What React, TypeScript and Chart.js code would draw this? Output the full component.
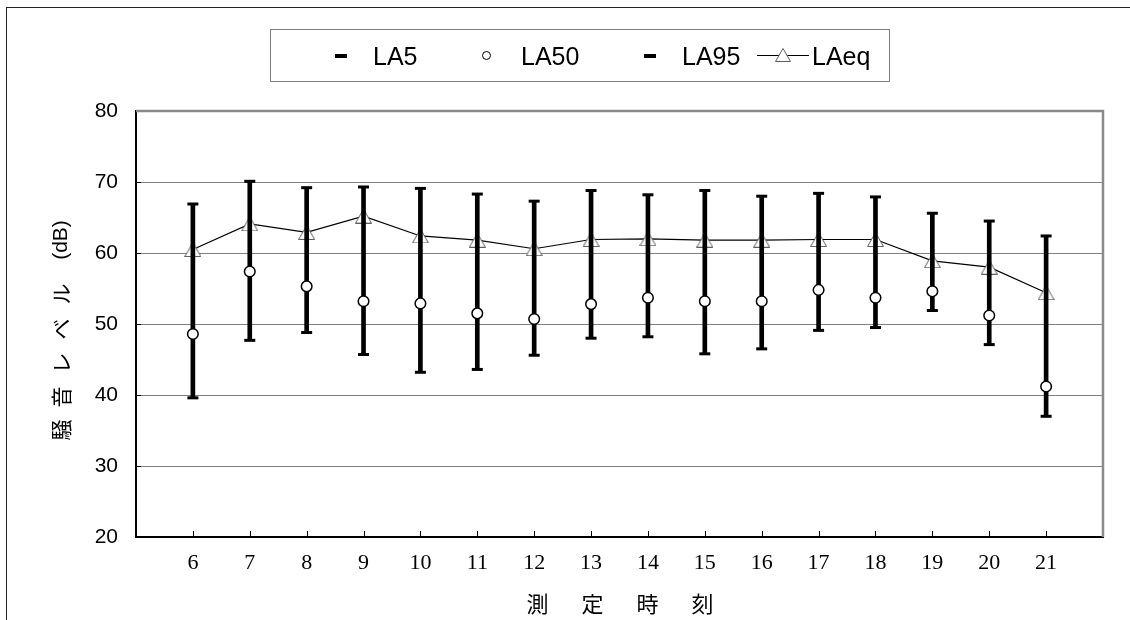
import React, { useEffect, useRef } from 'react';
import { Chart, registerables } from 'chart.js';

Chart.register(...registerables);

// ---- data ----
const hours = [6, 7, 8, 9, 10, 11, 12, 13, 14, 15, 16, 17, 18, 19, 20, 21];
const la5 = [66.9, 70.1, 69.2, 69.3, 69.1, 68.3, 67.3, 68.8, 68.2, 68.8, 68.0, 68.4, 67.9, 65.6, 64.5, 62.4];
const la50 = [48.6, 57.4, 55.3, 53.2, 52.9, 51.5, 50.7, 52.8, 53.7, 53.2, 53.2, 54.8, 53.7, 54.6, 51.2, 41.2];
const la95 = [39.6, 47.7, 48.8, 45.7, 43.2, 43.6, 45.6, 48.0, 48.2, 45.8, 46.5, 49.1, 49.5, 51.9, 47.1, 37.0];
const laeq = [60.5, 64.1, 62.9, 65.2, 62.4, 61.8, 60.6, 61.9, 62.0, 61.8, 61.8, 61.9, 61.9, 58.9, 58.0, 54.4];

const yMin = 20;
const yMax = 80;
const yStep = 10;
const xMin = 5;
const xMax = 22;

const legendNames = ['LA5', 'LA50', 'LA95', 'LAeq'];
const xTitleChars = ['測', '定', '時', '刻'];
const yTitleChars = ['騒', '音', 'レ', 'ベ', 'ル'];
const yTitleUnit = '(dB)';

const decorPlugin = {
  id: 'decor',
  beforeDatasetsDraw(chart: any) {
    const { ctx, chartArea, scales } = chart;
    const { left, right, top, bottom } = chartArea;
    ctx.save();
    ctx.strokeStyle = '#8a8a8a';
    ctx.lineWidth = 2.5;
    ctx.beginPath();
    ctx.moveTo(left, top);
    ctx.lineTo(right, top);
    ctx.lineTo(right, bottom);
    ctx.stroke();
    ctx.strokeStyle = '#000';
    ctx.lineWidth = 1;
    ctx.beginPath();
    hours.forEach((h) => {
      const px = Math.round(scales.x.getPixelForValue(h)) + 0.5;
      ctx.moveTo(px, bottom);
      ctx.lineTo(px, bottom - 6);
    });
    for (let v = yMin + yStep; v < yMax; v += yStep) {
      const py = Math.round(scales.y.getPixelForValue(v)) + 0.5;
      ctx.moveTo(left, py);
      ctx.lineTo(left + 5, py);
    }
    ctx.stroke();
    ctx.restore();
  },
};

export default function App() {
  const ref = useRef<HTMLCanvasElement>(null);

  useEffect(() => {
    const tri = document.createElement('canvas');
    tri.width = 17;
    tri.height = 15;
    const t = tri.getContext('2d')!;
    t.beginPath();
    t.moveTo(8.5, 0.5);
    t.lineTo(16.5, 14.5);
    t.lineTo(0.5, 14.5);
    t.closePath();
    t.fillStyle = '#fff';
    t.fill();
    t.strokeStyle = '#5e5e5e';
    t.lineWidth = 1;
    t.stroke();

    const pts = (arr: number[]) => hours.map((h, i) => ({ x: h, y: arr[i] }));

    const chart = new Chart(ref.current!, {
      type: 'line',
      data: {
        datasets: [
          {
            type: 'line',
            label: 'LAeq',
            data: pts(laeq),
            borderColor: '#000',
            borderWidth: 1.2,
            pointStyle: tri as any,
            pointRadius: 8,
            order: 3,
          } as any,
          {
            type: 'bar',
            label: 'range',
            data: hours.map((h, i) => ({ x: h, y: [la95[i], la5[i]] })),
            backgroundColor: '#000',
            barThickness: 4,
            order: 2,
          } as any,
          {
            type: 'line',
            label: 'LA5',
            data: pts(la5),
            showLine: false,
            pointStyle: 'line',
            pointRadius: 5.5,
            pointBorderWidth: 3,
            pointBorderColor: '#000',
            order: 1,
          } as any,
          {
            type: 'line',
            label: 'LA95',
            data: pts(la95),
            showLine: false,
            pointStyle: 'line',
            pointRadius: 5.5,
            pointBorderWidth: 3,
            pointBorderColor: '#000',
            order: 1,
          } as any,
          {
            type: 'line',
            label: 'LA50',
            data: pts(la50),
            showLine: false,
            pointStyle: 'circle',
            pointRadius: 5.3,
            pointBorderWidth: 1.5,
            pointBorderColor: '#000',
            pointBackgroundColor: '#fff',
            order: 0,
          } as any,
        ],
      },
      options: {
        animation: false,
        responsive: false,
        events: [],
        layout: { padding: { left: 0, right: 27, top: 111, bottom: 0 } },
        plugins: { legend: { display: false }, tooltip: { enabled: false } },
        scales: {
          x: {
            type: 'linear',
            min: xMin,
            max: xMax,
            offset: false,
            afterFit: (s: any) => {
              s.height = 83;
            },
            ticks: {
              stepSize: 1,
              autoSkip: false,
              maxRotation: 0,
              callback: (v: any) => (v >= hours[0] && v <= hours[hours.length - 1] ? String(v) : ''),
              font: { family: '"Liberation Serif", serif', size: 22 },
              color: '#000',
              padding: 13,
            },
            grid: { display: false, drawTicks: false, offset: false },
            border: { display: true, color: '#000', width: 2 },
          },
          y: {
            min: yMin,
            max: yMax,
            afterFit: (s: any) => {
              s.width = 136;
            },
            ticks: {
              stepSize: yStep,
              font: { family: '"Liberation Sans", Arial, sans-serif', size: 21 },
              color: '#000',
              padding: 18,
            },
            grid: { color: '#808080', lineWidth: 1, drawTicks: false },
            border: { display: true, color: '#000', width: 2 },
          },
        } as any,
      },
      plugins: [decorPlugin],
    });
    return () => chart.destroy();
  }, []);

  const legendText: React.CSSProperties = {
    position: 'absolute',
    top: 44,
    fontFamily: '"Liberation Sans", Arial, sans-serif',
    fontSize: 25,
    lineHeight: '25px',
    color: '#000',
    whiteSpace: 'nowrap',
  };
  const dash = (left: number): React.CSSProperties => ({
    position: 'absolute',
    left,
    top: 53.5,
    width: 12,
    height: 4,
    background: '#000',
  });

  const xCenters = [537.5, 592.5, 647.5, 702.5];
  const yOffsets = [20, 53, 87, 121, 156];

  return (
    <div
      style={{
        position: 'absolute',
        left: 0,
        top: 0,
        width: 1130,
        height: 620,
        overflow: 'hidden',
        background: '#fff',
      }}
    >
      <div
        style={{
          position: 'absolute',
          left: 6,
          top: 7,
          width: 1400,
          height: 900,
          border: '1px solid #222',
        }}
      />
      <canvas ref={ref} width={1130} height={620} style={{ position: 'absolute', left: 0, top: 0 }} />

      {/* legend */}
      <div
        style={{
          position: 'absolute',
          left: 270,
          top: 29,
          width: 620,
          height: 53,
          border: '1px solid #808080',
          boxSizing: 'border-box',
        }}
      />
      <div style={dash(335)} />
      <span style={{ ...legendText, left: 373 }}>{legendNames[0]}</span>
      <div
        style={{
          position: 'absolute',
          left: 482,
          top: 51,
          width: 9,
          height: 9,
          border: '1px solid #000',
          borderRadius: '50%',
          boxSizing: 'border-box',
          background: '#fff',
        }}
      />
      <span style={{ ...legendText, left: 521 }}>{legendNames[1]}</span>
      <div style={dash(644)} />
      <span style={{ ...legendText, left: 682 }}>{legendNames[2]}</span>
      <svg
        style={{ position: 'absolute', left: 757, top: 45 }}
        width={52}
        height={21}
        viewBox="0 0 52 21"
      >
        <line x1={0} y1={10.5} x2={52} y2={10.5} stroke="#000" strokeWidth={1} />
        <polygon points="26,3.5 33.5,16.5 18.5,16.5" fill="#fff" stroke="#5e5e5e" strokeWidth={1} />
      </svg>
      <span style={{ ...legendText, left: 812 }}>{legendNames[3]}</span>

      {/* x title */}
      {xTitleChars.map((c, i) => (
        <span
          key={c}
          style={{
            position: 'absolute',
            left: xCenters[i] - 15,
            top: 591,
            width: 30,
            textAlign: 'center',
            fontFamily: '"Noto Sans CJK JP", sans-serif',
            fontSize: 22,
            lineHeight: '22px',
            color: '#000',
          }}
        >
          {c}
        </span>
      ))}

      {/* y title */}
      <div
        style={{
          position: 'absolute',
          left: 60 - 120,
          top: 330 - 13,
          width: 240,
          height: 26,
          transform: 'rotate(-90deg)',
          transformOrigin: '50% 50%',
        }}
      >
        {yTitleChars.map((c, i) => (
          <span
            key={c}
            style={{
              position: 'absolute',
              left: yOffsets[i] - 12,
              top: 2,
              width: 24,
              textAlign: 'center',
              fontFamily: '"Noto Sans CJK JP", sans-serif',
              fontSize: 21,
              lineHeight: '22px',
              color: '#000',
            }}
          >
            {c}
          </span>
        ))}
        <span
          style={{
            position: 'absolute',
            left: 210 - 25,
            top: 2,
            width: 50,
            textAlign: 'center',
            fontFamily: '"Liberation Sans", Arial, sans-serif',
            fontSize: 21,
            lineHeight: '22px',
            color: '#000',
          }}
        >
          {yTitleUnit}
        </span>
      </div>
    </div>
  );
}
